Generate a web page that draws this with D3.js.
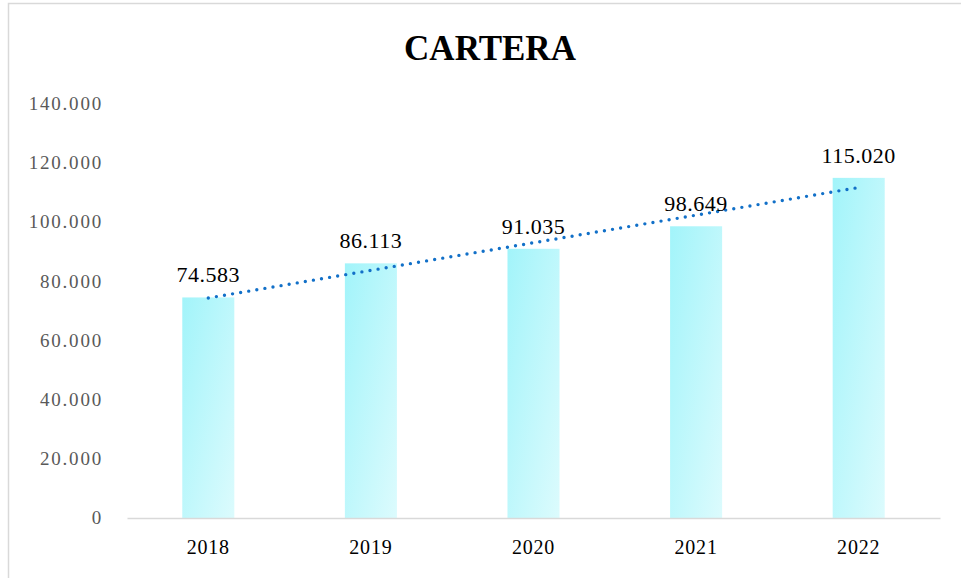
<!DOCTYPE html>
<html>
<head>
<meta charset="utf-8">
<script src="https://cdn.jsdelivr.net/npm/d3@7"></script>
<style>
  body { margin: 0; background: #fff; }
  text { font-family: "Liberation Serif", "DejaVu Serif", serif; font-variant-numeric: oldstyle-nums; }
</style>
</head>
<body>
<script>
// data
var years = ["2018", "2019", "2020", "2021", "2022"];
var cartera = [74583, 86113, 91035, 98649, 115020];
var yTicks = [0, 20000, 40000, 60000, 80000, 100000, 120000, 140000];

var W = 961, H = 578;
var margin = {left: 127, right: 21, top: 104, bottom: 60};

var svg = d3.select("body").append("svg")
    .attr("width", W)
    .attr("height", H);

// chart border
svg.append("rect")
    .attr("x", 8.5).attr("y", 3.5)
    .attr("width", W + 20).attr("height", H + 20)
    .attr("fill", "none")
    .attr("stroke", "#d9d9d9")
    .attr("stroke-width", 1.5);

var fmt = d3.formatLocale({decimal: ",", thousands: ".", grouping: [3], currency: ["$", ""]}).format(",");

var x = d3.scaleBand()
    .domain(years)
    .range([margin.left, W - margin.right])
    .paddingInner(0.68)
    .paddingOuter(0.34);

var y = d3.scaleLinear()
    .domain([0, 140000])
    .range([H - margin.bottom, margin.top]);

// gradient for bars
var defs = svg.append("defs");
var grad = defs.append("linearGradient")
    .attr("id", "barGrad")
    .attr("x1", "0%").attr("y1", "0%")
    .attr("x2", "100%").attr("y2", "100%");
grad.append("stop").attr("offset", "0%").attr("stop-color", "#a2f4fa");
grad.append("stop").attr("offset", "100%").attr("stop-color", "#dcfbfd");

// title
svg.append("text")
    .attr("x", 490).attr("y", 60)
    .attr("text-anchor", "middle")
    .style("font-size", "35px")
    .style("font-weight", "bold")
    .text("CARTERA");

// y axis labels
var yAxis = d3.axisLeft(y)
    .tickValues(yTicks)
    .tickFormat(fmt)
    .tickSize(0)
    .tickPadding(24);
var gy = svg.append("g")
    .attr("transform", "translate(" + margin.left + ",0)")
    .call(yAxis);
gy.select(".domain").remove();
gy.selectAll("text")
    .style("font-size", "19px")
    .style("letter-spacing", "1.8px")
    .attr("fill", "#595959")
    .attr("dy", "0.3em");

// bars
svg.append("g").selectAll("rect")
    .data(cartera)
    .enter()
    .append("rect")
    .attr("x", (d, i) => x(years[i]))
    .attr("y", d => y(d))
    .attr("width", x.bandwidth())
    .attr("height", d => y(0) - y(d))
    .attr("fill", "url(#barGrad)");

// x axis
var xAxis = d3.axisBottom(x).tickSize(0).tickPadding(22);
var gx = svg.append("g")
    .attr("transform", "translate(0," + y(0) + ")")
    .call(xAxis);
gx.select(".domain")
    .attr("stroke", "#d9d9d9")
    .attr("stroke-width", 1.5);
gx.selectAll("text")
    .style("font-size", "20px")
    .style("letter-spacing", "0.8px")
    .attr("fill", "#000");

// linear trendline
var mx = d3.mean(cartera, (d, i) => i);
var my = d3.mean(cartera);
var slope = d3.sum(cartera, (d, i) => (i - mx) * (d - my)) / d3.sum(cartera, (d, i) => (i - mx) * (i - mx));
var icpt = my - slope * mx;
var trend = years.map((yr, i) => [x(yr) + x.bandwidth() / 2, y(icpt + slope * i)]);

svg.append("path")
    .attr("d", d3.line()(trend))
    .attr("fill", "none")
    .attr("stroke", "#1270c8")
    .attr("stroke-width", 3.4)
    .attr("stroke-linecap", "round")
    .attr("stroke-dasharray", "0 8.2");

// value labels
svg.append("g").selectAll("text")
    .data(cartera)
    .enter()
    .append("text")
    .attr("x", (d, i) => x(years[i]) + x.bandwidth() / 2)
    .attr("y", d => y(d) - 15)
    .attr("text-anchor", "middle")
    .style("font-size", "22px")
    .style("letter-spacing", "0.5px")
    .attr("fill", "#000")
    .text(d => fmt(d));
</script>
</body>
</html>
